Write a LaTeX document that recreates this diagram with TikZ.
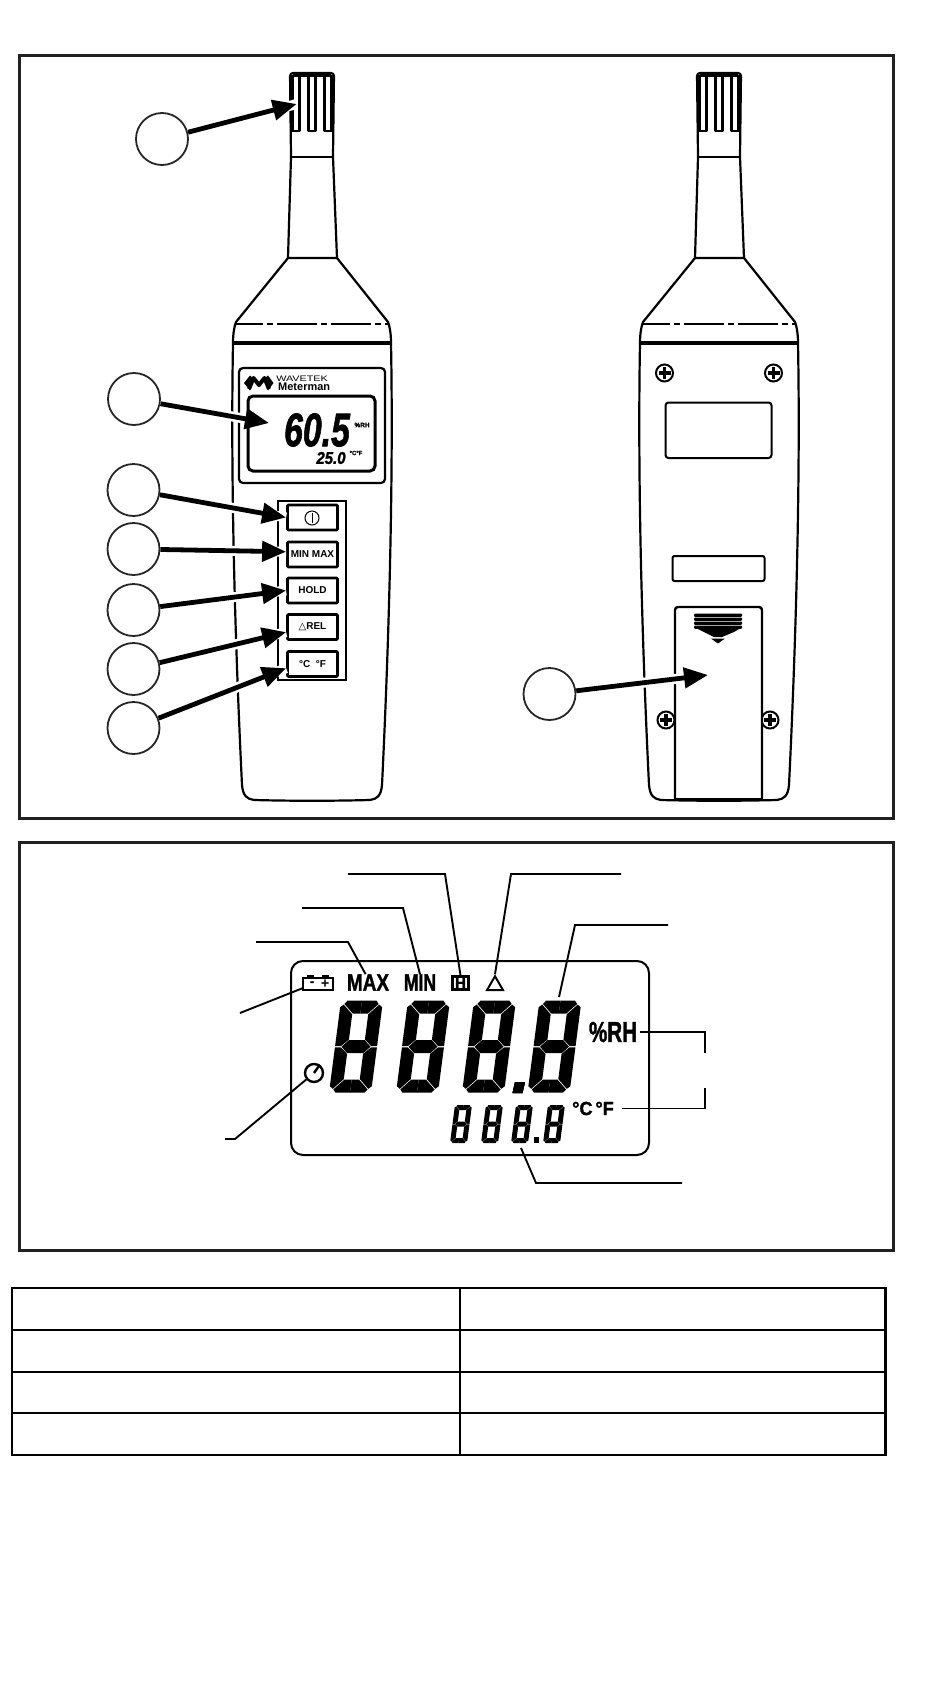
\documentclass[tikz,border=0pt]{standalone}
\usepackage{fontspec}
\setmainfont{Liberation Sans}
\newfontfamily\symbolfont{DejaVu Sans}
\newfontfamily\lcdfont[BoldFeatures={FakeBold=1.6}, BoldItalicFeatures={FakeBold=1.6}]{Liberation Sans}
\usetikzlibrary{arrows.meta,shapes.geometric}
\tikzset{
	frameline/.style={line width=3pt, color=black!87},
	callout/.style={circle, draw=black!85, line width=1.8pt, minimum size=52pt, inner sep=0pt, fill=white},
	pointer/.style={line width=4.8pt, -{Triangle[length=24pt, width=20pt]}, preaction={draw=white, line width=10pt, -{}}},
	leader/.style={line width=1.9pt},
	btn/.style={draw, line width=2.8pt, rounded corners=1pt, minimum width=50pt, minimum height=25pt, inner sep=0pt, font=\bfseries\fontsize{10}{10}\selectfont},
	lcdtext/.style={inner sep=0pt, font=\lcdfont\bfseries\fontsize{23.7}{24}\selectfont},
	body/.style={line width=2.2pt, line join=round}
}
\def\screw(#1,#2){\draw[fill=white, line width=2pt] (#1, #2) circle (8.5);
	\fill (#1-6, #2-1.6) rectangle (#1+6, #2+1.6);
	\fill (#1-1.6, #2-6) rectangle (#1+1.6, #2+6);}
\def\meterbody(#1){\begin{scope}[shift={(#1, 0)}, body]
		\draw[rounded corners=3pt] (-21, 157) -- (-22, 73) -- (22, 73) -- (21, 157);
		\draw (-21, 157) -- (21, 157);
		\draw (-21, 157) -- (-24, 258) -- (25, 258) -- (21, 157);
		\draw[line width=3.5pt] (-19, 75) -- (19, 75);
		\foreach \slot in {-16, 0, 16}
			\draw (\slot-3.5, 75) -- (\slot-3.5, 131) -- (\slot+3.5, 131) -- (\slot+3.5, 75);
		\draw (-24, 258) -- (-76, 322) .. controls (-78, 327) and (-79, 335) .. (-79, 343)
			.. controls (-81, 450) and (-79, 600) .. (-70, 785)
			.. controls (-69, 796) and (-65, 799) .. (-58, 800)
			.. controls (-20, 801) and (20, 801) .. (58, 800)
			.. controls (65, 799) and (69, 796) .. (70, 785)
			.. controls (79, 600) and (81, 450) .. (79, 343)
			.. controls (79, 335) and (78, 327) .. (76, 322) -- (25, 258);
		\draw[line width=2pt, dash pattern=on 40pt off 4pt on 6pt off 4pt, dash phase=13pt] (-76, 324) -- (76, 324);
		\draw[line width=3.4pt] (-79, 343) -- (79, 343);
	\end{scope}}
\def\lcdeight(#1,#2)[#3,#4,#5]{\begin{scope}[shift={(#1, #2)}, xslant=0.13]
		\pgfmathsetmacro\segA{#3/2}\pgfmathsetmacro\segB{#4/2}\pgfmathsetmacro\segT{#5}\pgfmathsetmacro\segG{#5*0.05}
		\foreach \mx/\my in {1/1, -1/1, 1/-1, -1/-1} {
			\begin{scope}[xscale=\mx, yscale=\my]
				\fill ({-\segA}, {-\segB+0.5*\segT}) -- ({-\segA+0.25*\segT}, {-\segB+0.25*\segT+\segG}) -- ({-\segA+\segT}, {-\segB+\segT+\segG}) -- ({-\segA+\segT}, {-0.5*\segT-\segG}) -- ({-\segA+0.5*\segT-\segG}, {-\segG}) -- ({-\segA}, {-\segG}) -- cycle;
				\fill ({-\segA+0.5*\segT}, {-\segB}) -- ({0}, {-\segB}) -- ({0}, {-\segB+\segT}) -- ({-\segA+\segT+\segG}, {-\segB+\segT}) -- ({-\segA+0.25*\segT+\segG}, {-\segB+0.25*\segT}) -- cycle;
			\end{scope}}
		\fill ({-\segA+0.5*\segT}, 0) -- ({-\segA+\segT}, {-0.5*\segT}) -- ({\segA-\segT}, {-0.5*\segT}) -- ({\segA-0.5*\segT}, 0) -- ({\segA-\segT}, {0.5*\segT}) -- ({-\segA+\segT}, {0.5*\segT}) -- cycle;
	\end{scope}}

\begin{document}
\begin{tikzpicture}[x=1pt, y=-1pt]
	\useasboundingbox (0, 0) rectangle (950, 1708);

	%%%%% meter views %%%%%
	\draw[frameline] (19, 55) rectangle (893, 818);
	\meterbody(312)
	\meterbody(719)

	% front
	\draw[line width=2.2pt, rounded corners=4pt] (239, 368) rectangle (385, 483);
	\draw[line width=3pt, rounded corners=5pt] (248, 396) rectangle (375, 471);
	\draw[line width=4pt, line join=round] (249, 389) -- (253.5, 378) -- (259, 385) -- (264.5, 378) -- (269, 389);
	\fill (244, 383) -- (250, 375.5) -- (254, 379) -- (250, 390.5) -- cycle;
	\fill (273.5, 383) -- (268, 375.5) -- (264, 379) -- (268, 390.5) -- cycle;
	\node[inner sep=0pt, anchor=west, xscale=1.35, font=\fontsize{8}{8}\selectfont] (brand) at (276, 379) {WAVETEK};
	\node[inner sep=0pt, anchor=west, font=\bfseries\fontsize{11}{11}\selectfont] (model) at (278, 387) {Meterman};
	\node[inner sep=0pt, xscale=0.72, font=\lcdfont\bfseries\itshape\fontsize{47}{47}\selectfont] (mainread) at (317, 430) {60.5};
	\node[inner sep=0pt, font=\lcdfont\bfseries\fontsize{6.5}{6.5}\selectfont] (mainunit) at (362, 425) {\%RH};
	\node[inner sep=0pt, xscale=0.88, font=\lcdfont\bfseries\itshape\fontsize{17}{17}\selectfont] (subread) at (331, 458) {25.0};
	\node[inner sep=0pt, font=\lcdfont\bfseries\fontsize{6}{6}\selectfont] (subunit) at (356, 453) {°C°F};

	\draw[line width=2pt] (278, 501) rectangle (346, 680);
	\node[btn] (btnpower) at (312.5, 517.5) {};
	\node[btn] (btnminmax) at (312.5, 554.5) {MIN MAX};
	\node[btn] (btnhold) at (312.5, 590.5) {HOLD};
	\node[btn] (btnrel) at (312.5, 627) {{\symbolfont △}REL};
	\node[btn] (btnunit) at (312.5, 664) {°C\ \ °F};
	\draw[line width=1pt] (312, 518) circle (7);
	\draw[line width=1pt] (312, 513) -- (312, 523);

	\coordinate (probe) at (296.7, 104);
	\coordinate (readout) at (269, 423);
	\node[callout] (probecall) at (162, 139) {};
	\node[callout] (lcdcall) at (134, 399) {};
	\node[callout] (powercall) at (133.5, 490) {};
	\node[callout] (minmaxcall) at (133.5, 549) {};
	\node[callout] (holdcall) at (133.5, 610) {};
	\node[callout] (relcall) at (133.5, 669) {};
	\node[callout] (unitcall) at (133.5, 728) {};
	\draw[pointer] (probecall) -- (probe);
	\draw[pointer] (lcdcall) -- (readout);
	\draw[pointer] (powercall) -- (btnpower.west);
	\draw[pointer] (minmaxcall) -- (btnminmax.174);
	\draw[pointer] (holdcall) -- (btnhold.west);
	\draw[pointer] (relcall) -- (btnrel.191);
	\draw[pointer] (unitcall) -- (btnunit.189);

	% back
	\screw(664.5, 373)
	\screw(773.5, 373)
	\draw[line width=2pt, rounded corners=3pt] (665.5, 402.5) rectangle (771.5, 458);
	\draw[line width=2pt, rounded corners=2pt] (672.5, 556) rectangle (764.5, 581);
	\screw(666, 720)
	\screw(770, 720)
	\draw[line width=2.4pt, fill=white, rounded corners=3pt] (675, 799) -- (675, 607) -- (762, 607) -- (762, 799);
	\draw[line width=2pt] (675, 799) -- (762, 799);
	\foreach \bar in {613.5, 617.5, 621.5, 625.5}
		\fill[rounded corners=1pt] (694, \bar) rectangle (742, \bar+3.4);
	\fill (698, 629) -- (739, 629) -- (734, 632) -- (722, 637) -- (714, 637) -- (704, 632) -- cycle;
	\fill (711, 638.5) -- (725, 638.5) -- (718, 643.5) -- cycle;
	\coordinate (door) at (708, 675);
	\node[callout] (doorcall) at (549.5, 694) {};
	\draw[pointer] (doorcall) -- (door);

	%%%%% lcd view %%%%%
	\draw[frameline] (19, 842) rectangle (893, 1250);
	\draw[line width=2pt, rounded corners=12pt] (291, 961) rectangle (649, 1155);

	\foreach \digit in {356, 423, 489, 554.5}
		\lcdeight(\digit,1046.7)[42,92,13]
	\fill (515, 1082) -- (525, 1082) -- (522.5, 1093) -- (512.5, 1093) -- cycle;
	\foreach \digit in {461, 492, 522, 554}
		\lcdeight(\digit,1124)[17,38,5]
	\fill (534, 1137) rectangle (539, 1142.5);

	\draw[line width=2.8pt] (303, 978) rectangle (333, 990);
	\draw[line width=2.8pt] (307, 976.5) -- (314, 976.5);
	\draw[line width=2.8pt] (322, 976.5) -- (329, 976.5);
	\node[inner sep=0pt, font=\lcdfont\bfseries\fontsize{13}{13}\selectfont] (battminus) at (312, 983.5) {-};
	\node[inner sep=0pt, font=\lcdfont\bfseries\fontsize{13}{13}\selectfont] (battplus) at (325, 983.5) {+};
	\coordinate (batt) at (303, 988);
	\node[lcdtext, xscale=0.8] (maxlab) at (368, 982.5) {MAX};
	\node[lcdtext, xscale=0.74] (minlab) at (420, 982.5) {MIN};
	\node[draw, line width=2.4pt, minimum width=16pt, minimum height=13pt, inner sep=0pt, font=\lcdfont\bfseries\fontsize{15}{15}\selectfont] (holdlab) at (460.5, 983) {H};
	\node[draw, line width=2pt, regular polygon, regular polygon sides=3, minimum size=18.5pt, inner sep=0pt] (deltalab) at (495, 985.5) {};
	\node[lcdtext, xscale=0.71, font=\lcdfont\bfseries\fontsize{29}{29}\selectfont] (rhlab) at (613, 1032) {\%RH};
	\node[lcdtext, xscale=0.95, font=\lcdfont\bfseries\fontsize{19}{19}\selectfont] (unitlab) at (593, 1108.5) {°C\,°F};
	\node[circle, draw, line width=2.4pt, minimum size=18pt, inner sep=0pt] (timerlab) at (314, 1073) {};
	\draw[line width=2.4pt] (timerlab.center) -- (timerlab.55);
	\coordinate (bigdigit) at (559, 997);
	\coordinate (smalldigit) at (521, 1148);

	\coordinate (maxend) at (256, 942);
	\coordinate (minend) at (302, 908);
	\coordinate (holdend) at (348, 874);
	\coordinate (deltaend) at (621, 874);
	\coordinate (bigend) at (668, 925);
	\coordinate (battend) at (240, 1013);
	\coordinate (timerend) at (225, 1139);
	\coordinate (rhend) at (705, 1053);
	\coordinate (unitend) at (705, 1088);
	\coordinate (smallend) at (682, 1183);
	\draw[leader] (maxend) -- (348, 942) -- (maxlab.110);
	\draw[leader] (minend) -- (403, 908) -- (minlab.north);
	\draw[leader] (holdend) -- (445, 874) -- (holdlab.north);
	\draw[leader] (deltaend) -- (511, 874) -- (deltalab.north);
	\draw[leader] (bigend) -- (575, 925) -- (bigdigit);
	\draw[leader] (battend) -- (batt);
	\draw[leader] (timerend) -- (235, 1139) -- (timerlab);
	\draw[leader, shorten >=3pt] (rhend) |- (rhlab.east);
	\draw[leader, shorten >=8pt] (unitend) |- (unitlab.east);
	\draw[leader] (smallend) -- (536, 1183) -- (smalldigit);

	%%%%% table %%%%%
	\draw[line width=2.2pt] (12, 1288) rectangle (885.5, 1455);
	\foreach \row in {1329.5, 1371.5, 1413}
		\draw[line width=2pt] (12, \row) -- (885.5, \row);
	\draw[line width=2pt] (460, 1288) -- (460, 1455);
\end{tikzpicture}
\end{document}
